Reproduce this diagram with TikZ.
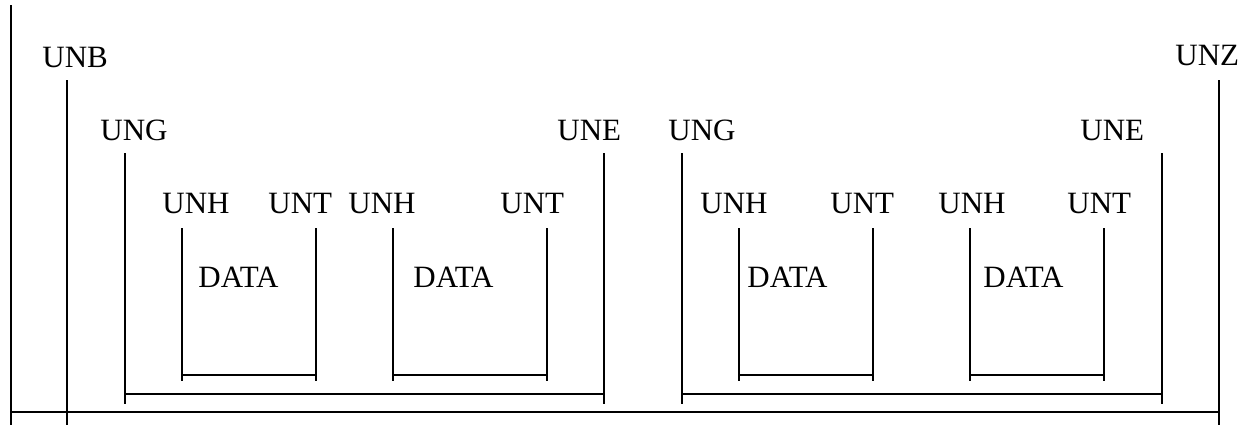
\documentclass[tikz,border=0pt]{standalone}
\usepackage{fontspec}
\setmainfont{Liberation Serif}
\begin{document}
\begin{tikzpicture}[x=0.5pt,y=-0.5pt,
  lbl/.style={inner sep=0pt,anchor=base west,font=\fontsize{15.5}{18}\selectfont},
  seg/.style={line width=0.55pt,black}]
\useasboundingbox (0,0) rectangle (1250,425);
% outer segment lines
\coordinate (l0t) at (11,5);    \coordinate (l0b) at (11,425);
\coordinate (unbt) at (67,80);  \coordinate (unbb) at (67,425);
\coordinate (unzt) at (1219,80);\coordinate (unzb) at (1219,425);
\coordinate (mainl) at (10,412);\coordinate (mainr) at (1220,412);
\draw[seg] (l0t) -- (l0b);
\draw[seg] (unbt) -- (unbb);
\draw[seg] (unzt) -- (unzb);
\draw[seg] (mainl) -- (mainr);
\node[lbl] (unb) at (42,67) {UNB};
\node[lbl] (unz) at (1175,65) {UNZ};
% groups
\foreach \i/\a/\b/\ga/\gb in {1/125/604/100/557, 2/682/1162/668/1080}{
  \coordinate (g\i lt) at (\a,153); \coordinate (g\i lb) at (\a,404);
  \coordinate (g\i rt) at (\b,153); \coordinate (g\i rb) at (\b,404);
  \coordinate (g\i hl) at (\a,394); \coordinate (g\i hr) at (\b,394);
  \draw[seg] (g\i lt) -- (g\i lb);
  \draw[seg] (g\i rt) -- (g\i rb);
  \draw[seg] (g\i hl) -- (g\i hr);
  \node[lbl] (ung\i) at (\ga,140) {UNG};
  \node[lbl] (une\i) at (\gb,140) {UNE};
}
% messages
\foreach \i/\a/\b/\ha/\ta/\da in {1/182/316/162/268/198, 2/393/547/348/500/413, 3/739/873/700/830/747, 4/970/1104/938/1067/983}{
  \coordinate (m\i lt) at (\a,228); \coordinate (m\i lb) at (\a,381);
  \coordinate (m\i rt) at (\b,228); \coordinate (m\i rb) at (\b,381);
  \coordinate (m\i hl) at (\a,375); \coordinate (m\i hr) at (\b,375);
  \draw[seg] (m\i lt) -- (m\i lb);
  \draw[seg] (m\i rt) -- (m\i rb);
  \draw[seg] (m\i hl) -- (m\i hr);
  \node[lbl] (unh\i) at (\ha,213) {UNH};
  \node[lbl] (unt\i) at (\ta,213) {UNT};
  \node[lbl] (data\i) at (\da,287) {DATA};
}
\end{tikzpicture}
\end{document}
